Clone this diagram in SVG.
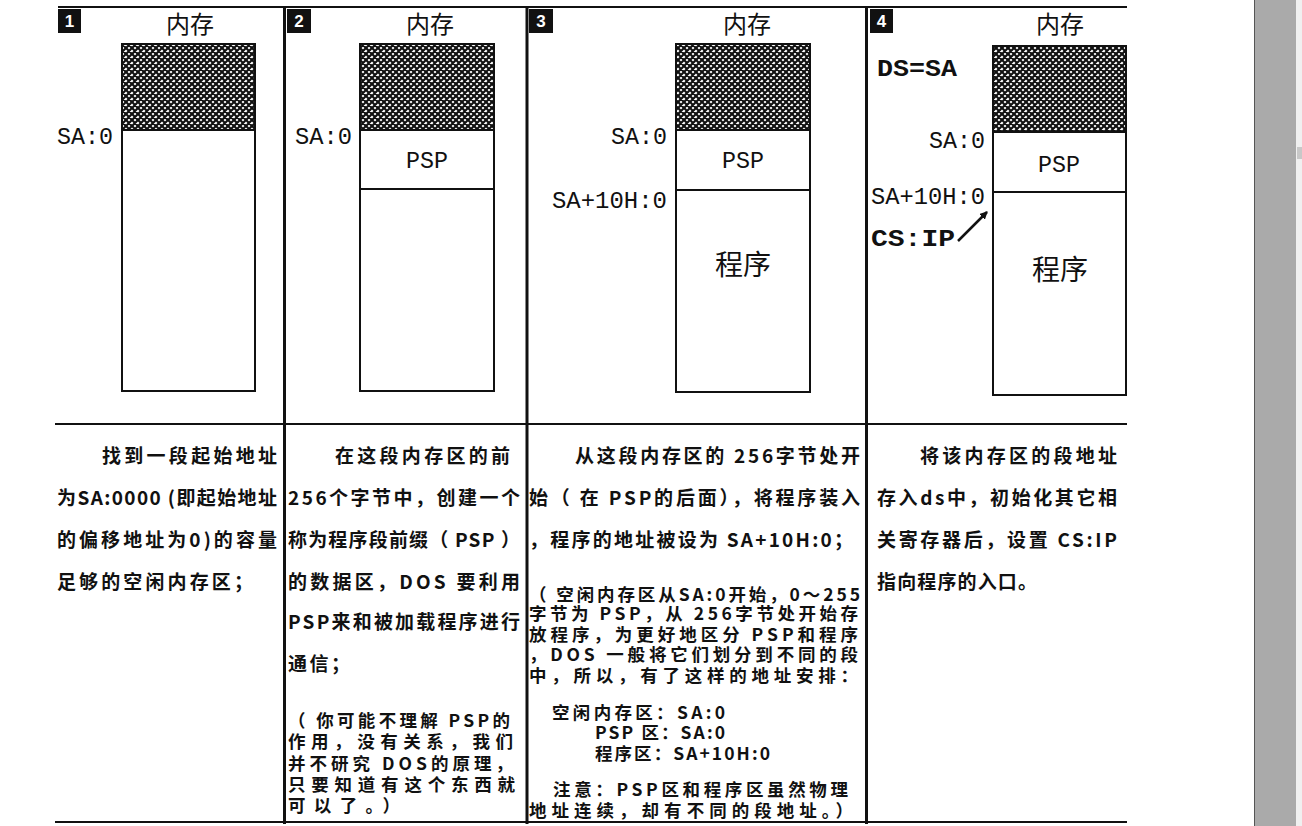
<svg xmlns="http://www.w3.org/2000/svg" width="1302" height="826" viewBox="0 0 1302 826">
<defs>
<pattern id="hatch" width="6" height="6" patternUnits="userSpaceOnUse">
<rect width="6" height="6" fill="#fff"/>
<path d="M-1,-1 L7,7 M7,-1 L-1,7 M-1,5 L1,7 M5,-1 L7,1 M-1,1 L1,-1 M5,7 L7,5" stroke="#111" stroke-width="2.2"/>
</pattern>
<marker id="arr" markerWidth="8" markerHeight="8" refX="7" refY="4" orient="auto" markerUnits="userSpaceOnUse">
<path d="M0,0 L8,4 L0,8 Z" fill="#111"/>
</marker>
<style>
.frame{stroke:#111;fill:none}
.mem{stroke:#111;stroke-width:2;fill:#fff}
.hat{stroke:#111;stroke-width:2;fill:url(#hatch)}
.sep{stroke:#111;stroke-width:1.8}
.num{font-family:"Liberation Sans",sans-serif;font-weight:bold;font-size:17px;fill:#fff;text-anchor:middle}
.head{font-family:"Noto Sans CJK SC",sans-serif;font-size:24px;fill:#111;text-anchor:middle}
.lab{font-family:"Liberation Mono",monospace;font-size:23px;fill:#111}
.labb{font-family:"Liberation Mono",monospace;font-size:23px;font-weight:bold;fill:#111}
.cj{font-family:"Noto Sans CJK SC",sans-serif;font-size:28px;fill:#111;text-anchor:middle}
.tx{font-family:"Noto Sans CJK SC",sans-serif;font-size:19px;font-weight:bold;fill:#111}
.ts{font-family:"Noto Sans CJK SC",sans-serif;font-size:17.5px;font-weight:bold;fill:#111}
</style>
</defs>
<rect width="1302" height="826" fill="#fff"/>
<rect x="1254" y="0" width="42" height="826" fill="#aaaaaa"/>
<line x1="1254.5" y1="0" x2="1254.5" y2="826" stroke="#555" stroke-width="1"/>
<rect x="1296" y="0" width="6" height="826" fill="#f0f0f0"/>
<rect x="1297" y="147" width="5" height="12" fill="#c8c8c8"/>

<g id="frame">
<line class="frame" x1="58" y1="7" x2="1127" y2="7" stroke-width="2"/>
<line class="frame" x1="55" y1="424" x2="1127" y2="424" stroke-width="2"/>
<line class="frame" x1="55" y1="822" x2="1127" y2="822" stroke-width="2"/>
<line class="frame" x1="284.5" y1="7" x2="284.5" y2="824" stroke-width="3"/>
<line class="frame" x1="527" y1="7" x2="527" y2="824" stroke-width="3"/>
<line class="frame" x1="866.5" y1="7" x2="866.5" y2="824" stroke-width="3"/>
</g>

<g id="panel1">
<rect x="58" y="9" width="23" height="24" fill="#111"/>
<text class="num" x="69.5" y="27">1</text>
<text class="head" x="190" y="33">内存</text>
<rect class="mem" x="122" y="44" width="133" height="347"/>
<rect class="hat" x="122" y="44" width="133" height="86"/>
<text class="lab" x="57" y="144" textLength="56" lengthAdjust="spacingAndGlyphs">SA:0</text>
<text class="tx" x="102" y="463" textLength="175" lengthAdjust="spacing">找到一段起始地址</text>
<text class="tx" x="57" y="505" textLength="220" lengthAdjust="spacing">为SA:0000 (即起始地址</text>
<text class="tx" x="57" y="547" textLength="220" lengthAdjust="spacing">的偏移地址为0)的容量</text>
<text class="tx" x="57" y="589" textLength="196" lengthAdjust="spacing">足够的空闲内存区；</text>
</g>

<g id="panel2">
<rect x="287" y="9" width="24" height="24" fill="#111"/>
<text class="num" x="299" y="27">2</text>
<text class="head" x="430" y="33">内存</text>
<rect class="mem" x="360" y="44" width="134" height="347"/>
<rect class="hat" x="360" y="44" width="134" height="86"/>
<line class="sep" x1="360" y1="189" x2="494" y2="189"/>
<text class="lab" x="295" y="144" textLength="57" lengthAdjust="spacingAndGlyphs">SA:0</text>
<text class="lab" x="406" y="168" textLength="42" lengthAdjust="spacingAndGlyphs">PSP</text>
<text class="tx" x="335" y="463" textLength="175" lengthAdjust="spacing">在这段内存区的前</text>
<text class="tx" x="288" y="505" textLength="232" lengthAdjust="spacing">256个字节中，创建一个</text>
<text class="tx" x="288" y="547" textLength="232" lengthAdjust="spacing">称为程序段前缀（ PSP ）</text>
<text class="tx" x="288" y="589" textLength="232" lengthAdjust="spacing">的数据区，DOS 要利用</text>
<text class="tx" x="288" y="629" textLength="232" lengthAdjust="spacing">PSP来和被加载程序进行</text>
<text class="tx" x="288" y="671" textLength="62" lengthAdjust="spacing">通信；</text>
<text class="ts" x="288" y="727" textLength="222" lengthAdjust="spacing">（ 你可能不理解 PSP的</text>
<text class="ts" x="288" y="748" textLength="225" lengthAdjust="spacing">作用，没有关系，我们</text>
<text class="ts" x="288" y="770" textLength="225" lengthAdjust="spacing">并不研究 DOS的原理，</text>
<text class="ts" x="288" y="791" textLength="227" lengthAdjust="spacing">只要知道有这个东西就</text>
<text class="ts" x="288" y="812" textLength="112" lengthAdjust="spacing">可以了。）</text>
</g>

<g id="panel3">
<rect x="529" y="9" width="24" height="24" fill="#111"/>
<text class="num" x="541" y="27">3</text>
<text class="head" x="747" y="33">内存</text>
<rect class="mem" x="676" y="44" width="134" height="348"/>
<rect class="hat" x="676" y="44" width="134" height="86"/>
<line class="sep" x1="676" y1="190" x2="810" y2="190"/>
<text class="lab" x="611" y="144" textLength="56" lengthAdjust="spacingAndGlyphs">SA:0</text>
<text class="lab" x="552" y="208" textLength="115" lengthAdjust="spacingAndGlyphs">SA+10H:0</text>
<text class="lab" x="722" y="168" textLength="42" lengthAdjust="spacingAndGlyphs">PSP</text>
<text class="cj" x="743" y="275">程序</text>
<text class="tx" x="575" y="463" textLength="285" lengthAdjust="spacing">从这段内存区的 256字节处开</text>
<text class="tx" x="529" y="505" textLength="331" lengthAdjust="spacing">始（ 在 PSP的后面），将程序装入</text>
<text class="tx" x="529" y="547" textLength="324" lengthAdjust="spacing">，程序的地址被设为 SA+10H:0；</text>
<text class="ts" x="529" y="601" textLength="331" lengthAdjust="spacing">（ 空闲内存区从SA:0开始，0～255</text>
<text class="ts" x="529" y="620" textLength="329" lengthAdjust="spacing">字节为 PSP，从 256字节处开始存</text>
<text class="ts" x="529" y="641" textLength="329" lengthAdjust="spacing">放程序，为更好地区分 PSP和程序</text>
<text class="ts" x="529" y="661" textLength="329" lengthAdjust="spacing">，DOS 一般将它们划分到不同的段</text>
<text class="ts" x="529" y="682" textLength="329" lengthAdjust="spacing">中，所以，有了这样的地址安排：</text>
<text class="ts" x="552" y="719" textLength="173" lengthAdjust="spacing">空闲内存区：SA:0</text>
<text class="ts" x="595" y="739" textLength="130" lengthAdjust="spacing">PSP 区：SA:0</text>
<text class="ts" x="595" y="760" textLength="175" lengthAdjust="spacing">程序区：SA+10H:0</text>
<text class="ts" x="553" y="796" textLength="295" lengthAdjust="spacing">注意：PSP区和程序区虽然物理</text>
<text class="ts" x="529" y="817" textLength="324" lengthAdjust="spacing">地址连续，却有不同的段地址。）</text>
</g>

<g id="panel4">
<rect x="870" y="9" width="23" height="24" fill="#111"/>
<text class="num" x="881.5" y="27">4</text>
<text class="head" x="1060" y="33">内存</text>
<rect class="mem" x="993" y="46" width="133" height="349"/>
<rect class="hat" x="993" y="46" width="133" height="86"/>
<line class="sep" x1="993" y1="192" x2="1126" y2="192"/>
<text class="labb" x="877" y="76" textLength="80" lengthAdjust="spacingAndGlyphs">DS=SA</text>
<text class="lab" x="929" y="148" textLength="56" lengthAdjust="spacingAndGlyphs">SA:0</text>
<text class="lab" x="1038" y="172" textLength="42" lengthAdjust="spacingAndGlyphs">PSP</text>
<text class="lab" x="871" y="204" textLength="114" lengthAdjust="spacingAndGlyphs">SA+10H:0</text>
<text class="labb" x="871" y="246" textLength="84" lengthAdjust="spacingAndGlyphs">CS:IP</text>
<text class="cj" x="1060" y="280">程序</text>
<text class="tx" x="920" y="463" textLength="197" lengthAdjust="spacing">将该内存区的段地址</text>
<text class="tx" x="877" y="505" textLength="240" lengthAdjust="spacing">存入ds中，初始化其它相</text>
<text class="tx" x="877" y="547" textLength="240" lengthAdjust="spacing">关寄存器后，设置 CS:IP</text>
<text class="tx" x="877" y="589" textLength="160" lengthAdjust="spacing">指向程序的入口。</text>
</g>

<g id="connectors">
<line x1="958" y1="241" x2="987" y2="212" stroke="#111" stroke-width="2.5" marker-end="url(#arr)"/>
</g>
</svg>
